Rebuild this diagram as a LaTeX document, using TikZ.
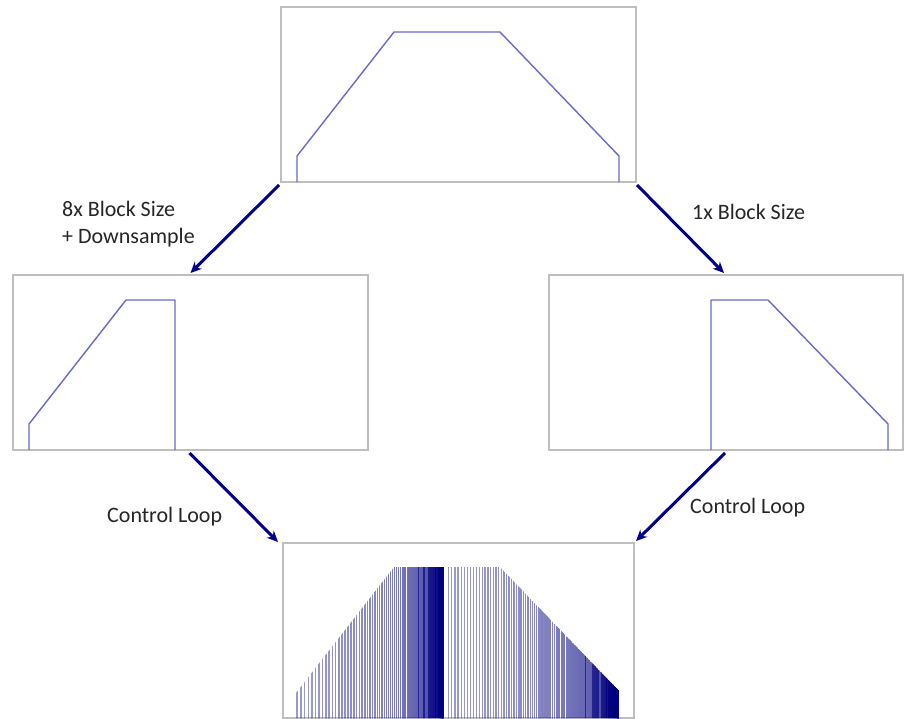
\documentclass[tikz,border=0pt]{standalone}
\usepackage{fontspec}
\setmainfont{Carlito}
\usetikzlibrary{arrows.meta}
\definecolor{arrowblue}{RGB}{0,0,140}
\definecolor{curveblue}{RGB}{105,105,200}
\definecolor{boxgray}{RGB}{190,190,190}
\definecolor{barblue}{RGB}{0,0,128}
\begin{document}
\begin{tikzpicture}[x=1pt,y=-1pt,
 panel/.style={draw=boxgray, line width=1.5pt, minimum width=355pt, minimum height=175pt, inner sep=0pt, outer sep=0pt, fill=white},
 flow/.style={draw=arrowblue, line width=3pt, -{Stealth[length=11pt,width=10pt]}},
 curve/.style={draw=curveblue, line width=1.4pt, line join=round},
 lbl/.style={font=\fontsize{22}{27}\selectfont, text=black!85, inner sep=0pt, anchor=west, align=left},
 bar/.style={barblue, line width=1.4pt}]
\useasboundingbox (0,0) rectangle (905,719);
\fill[white] (0,0) rectangle (905,719);
% panels
\node[panel] (top) at (458.5,94.5) {};
\node[panel] (left) at (190.5,362.5) {};
\node[panel, minimum width=354pt] (right) at (726,362.5) {};
\node[panel, minimum width=351pt] (bottom) at (458.5,630.5) {};
% curves
\draw[curve] (297,182) -- (297,156) -- (394,32) -- (500,32) -- (619,156) -- (619,182);
\draw[curve] (29,450) -- (29,424) -- (126,300) -- (175,300) -- (175,450);
\draw[curve] (711,450) -- (711,300) -- (768,300) -- (888,424) -- (888,450);
% bars
\begin{scope}
\clip (296,718) -- (296,693) -- (394,567) -- (500,567) -- (620,692) -- (620,718) -- cycle;
\foreach \i in {0,...,95}{
  \pgfmathsetmacro{\xx}{297+146*(1-(1-\i/95)^2.5)}
  \pgfmathsetmacro{\op}{0.4+0.6*(\i/95)^1.5}
  \draw[bar, opacity=\op] (\xx,560) -- (\xx,720);
}
\foreach \i in {0,...,130}{
  \pgfmathsetmacro{\xx}{448.5+170*(1-(1-\i/130)^2.5)}
  \pgfmathsetmacro{\op}{0.4+0.6*(\i/130)^1.5}
  \draw[bar, opacity=\op] (\xx,560) -- (\xx,720);
}
\end{scope}
% arrows
\draw[flow] ([shift={(-2,3)}]top.south west) -- ([shift={(0,-2)}]left.north);
\draw[flow] ([shift={(1,3)}]top.south east) -- ([shift={(-2,-2)}]right.north);
\draw[flow] ([shift={(-1,3)}]left.south) -- ([shift={(-5,-1)}]bottom.north west);
\draw[flow] ([shift={(-1,3)}]right.south) -- ([shift={(2,-2)}]bottom.north east);
% labels
\node[lbl] (l8x) at (62,224.5) {8x Block Size\\+ Downsample};
\node[lbl] (l1x) at (692,212) {1x Block Size};
\node[lbl] (lcl) at (107,517) {Control Loop};
\node[lbl] (lcr) at (690,508) {Control Loop};
\end{tikzpicture}
\end{document}
